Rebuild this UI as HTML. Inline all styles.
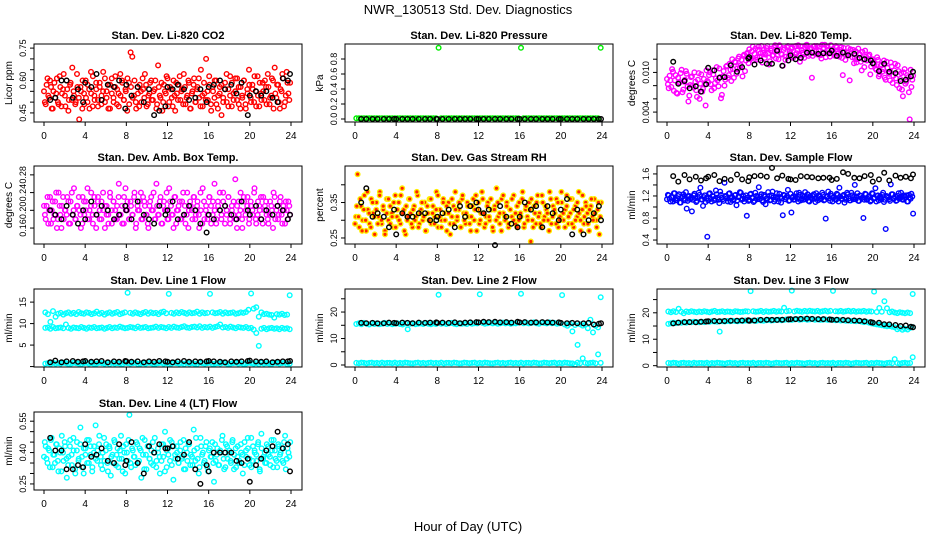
<!DOCTYPE html>
<html><head><meta charset="utf-8"><style>
html,body{margin:0;padding:0;background:#fff;}
svg{display:block;font-family:"Liberation Sans",Arial,sans-serif;}
</style></head><body>
<svg id="chart" width="936" height="540" viewBox="0 0 936 540">
<rect x="0" y="0" width="936" height="540" fill="#fff"/>
<text x="468" y="14" text-anchor="middle" font-size="13">NWR_130513  Std. Dev. Diagnostics</text>
<text x="468" y="531" text-anchor="middle" font-size="13">Hour of Day (UTC)</text>
</svg>
<script>
const xTicks=[0,4,8,12,16,20,24];
const blackHours=[0.6,1.1,1.7,2.2,2.8,3.3,3.8,4.0,4.6,5.1,5.6,6.2,6.8,7.3,7.9,8.0,8.5,9.1,9.7,10.2,10.7,11.2,11.8,12.0,12.5,13.0,13.6,14.1,14.7,15.2,15.8,16.0,16.5,17.1,17.6,18.2,18.7,19.2,19.8,20.0,20.6,21.1,21.6,22.2,22.7,23.2,23.7,23.9];

const co2Red=[.50,.58,.53,.60,.47,.55,.52,.61,.49,.57,.54,.63,.48,.56,.51,.59,.66,.53,.50,.57,.42,.55,.60,.49,.52,.58,.47,.54,.62,.51,.56,.48,.59,.53,.64,.50,.55,.58,.47,.61,.52,.57,.49,.54,.63,.60,.51,.56,.46,.59,.73,.71,.53,.50,.57,.48,.55,.61,.52,.58,.49,.54,.60,.51,.56,.47,.67,.53,.59,.50,.55,.62,.48,.57,.52,.60,.46,.54,.58,.51,.56,.63,.49,.53,.59,.47,.55,.61,.50,.57,.52,.65,.48,.54,.70,.51,.58,.46,.55,.60,.49,.53,.57,.44,.52,.59,.50,.56,.62,.48,.54,.61,.51,.57,.47,.53,.60,.49,.56,.65,.52,.58,.50,.55,.62,.48,.54,.59,.51,.57,.63,.49,.53,.60,.66,.52,.58,.47,.55,.61,.50,.64,.54,.59];
const co2Red2=[.55,.49,.61,.52,.57,.47,.59,.54,.50,.62,.48,.56,.53,.60,.46,.58,.51,.55,.49,.63,.52,.57,.47,.54,.60,.50,.56,.64,.48,.53,.59,.51,.57,.49,.55,.61,.52,.47,.58,.54,.50,.62,.56,.48,.53,.59,.51,.55,.61,.49,.57,.52,.60,.47,.54,.58,.50,.56,.63,.48,.53,.59,.51,.55,.60,.49,.57,.52,.46,.58,.54,.61,.50,.56,.48,.53,.59,.51,.62,.55,.49,.57,.52,.60,.47,.54,.58,.50,.56,.61,.48,.53,.59,.51,.55,.62,.49,.57,.52,.60,.47,.54,.58,.50,.56,.63,.48,.53,.59,.51,.55,.61,.49,.57,.52,.60,.47,.54,.58,.50,.56,.62,.48,.53,.59,.51,.55,.60,.49,.57,.52,.61,.47,.54,.58,.50,.56,.63,.48,.53,.59,.51];
const co2Black=[.51,.52,.60,.60,.52,.56,.50,.59,.57,.63,.51,.58,.57,.60,.47,.58,.53,.57,.50,.56,.44,.46,.48,.57,.56,.58,.56,.51,.52,.56,.50,.57,.58,.60,.56,.58,.54,.59,.44,.53,.55,.53,.55,.52,.50,.61,.60,.63];

const pressGreen=[0.01,0.01,0.01,0.01,0.01,0.01,0.01,0.01,0.01,0.01,0.01,0.01,0.01,0.01,0.01,0.01,0.01,0.01,0.01,0.01,0.01,0.01,0.01,0.01,0.01,0.01,0.01,0.01,0.01,0.01,0.01,0.01,0.95,0.01,0.01,0.01,0.01,0.01,0.01,0.01,0.01,0.01,0.01,0.01,0.01,0.01,0.01,0.01,0.01,0.01,0.01,0.01,0.01,0.01,0.01,0.01,0.01,0.01,0.01,0.01,0.01,0.01,0.01,0.01,0.95,0.01,0.01,0.01,0.01,0.01,0.01,0.01,0.01,0.01,0.01,0.01,0.01,0.01,0.01,0.01,0.01,0.01,0.01,0.01,0.01,0.01,0.01,0.01,0.01,0.01,0.01,0.01,0.01,0.01,0.01,0.95];
const pressBlack=[0,0,0,0,0,0,0,0,0,0,0,0,0,0,0,0,0,0,0,0,0,0,0,0,0,0,0,0,0,0,0,0,0,0,0,0,0,0,0,0,0,0,0,0,0,0,0,0];

const tempMag=[8.2,9.5,7.8,10.1,8.8,6.9,9.2,8.5,10.4,7.4,8.9,9.8,5.6,8.1,9.4,7.7,8.6,6.3,9.9,8.3,7.1,9.0,5.0,8.7,9.6,8.2,10.3,7.6,9.1,8.8,10.6,6.1,9.4,8.0,10.9,9.2,11.3,8.7,10.5,11.6,9.8,12.1,10.7,11.9,12.5,10.2,12.8,11.4,12.6,13.2,11.8,13.6,12.3,13.9,12.9,11.5,13.4,12.7,14.0,11.2,13.3,12.5,13.8,12.1,13.5,14.1,12.8,11.0,13.7,12.4,14.0,13.1,13.6,12.2,13.9,12.9,14.1,11.6,13.4,12.7,13.8,14.2,12.5,13.5,9.2,13.9,12.8,14.0,13.3,12.6,14.2,13.7,12.3,13.9,12.9,14.1,13.5,12.8,14.0,13.2,12.4,13.8,9.6,13.1,12.6,13.7,8.8,12.9,13.4,12.2,11.5,13.6,12.7,10.3,12.0,13.3,11.8,12.5,9.7,11.9,11.2,10.6,12.3,9.4,11.0,10.1,11.8,8.9,10.7,9.8,11.5,8.4,10.3,9.1,11.1,7.6,9.9,6.4,10.5,8.6,9.3,2.9,7.8,9.5];
const tempMag2=[9.0,7.6,8.8,10.5,7.2,9.6,6.8,8.4,9.9,7.0,8.6,10.2,7.9,6.5,9.3,8.0,10.0,7.3,8.9,6.0,9.7,7.5,8.2,10.3,8.5,10.0,7.3,9.7,8.4,10.8,7.9,9.3,6.6,10.2,8.9,11.0,9.6,10.4,12.0,9.2,11.5,10.6,12.4,11.1,9.4,12.7,11.8,13.0,13.5,12.1,13.9,12.8,11.9,13.4,12.4,14.0,13.0,12.2,13.7,12.9,11.7,13.6,12.6,14.1,13.2,12.0,13.9,12.7,13.4,11.9,13.8,12.5,12.9,13.8,12.4,14.0,13.3,12.6,13.9,13.0,12.2,14.1,13.4,12.8,13.7,12.5,14.0,13.2,12.7,13.9,12.1,13.6,14.2,12.9,13.4,12.4,14.0,13.1,12.5,13.8,12.9,13.4,12.2,13.7,11.9,13.0,12.6,13.5,12.3,11.4,13.2,12.0,12.8,11.6,13.1,10.8,12.4,11.9,12.7,10.9,12.0,11.3,10.4,11.9,9.7,11.2,10.5,9.2,11.6,10.0,8.8,10.9,9.5,11.3,8.1,10.2,9.0,7.4,10.0,8.3,9.6,7.0,10.4,8.9];
const tempBlack=[11.6,8.3,8.7,7.6,7.9,7.1,8.2,10.7,10.3,9.2,9.3,11.1,10.1,10.8,12.1,12.3,11.2,11.8,11.3,11.3,13.3,11.0,11.8,12.6,12.0,12.2,13.0,13.0,12.8,12.9,12.9,13.3,12.5,13.0,12.6,12.8,12.2,12.0,11.8,11.4,10.2,11.3,10.1,9.9,8.7,8.9,9.4,10.1];

const ambMag=[.19,.21,.17,.23,.20,.18,.22,.16,.24,.19,.21,.18,.20,.23,.17,.22,.19,.25,.18,.21,.20,.16,.23,.19,.22,.18,.20,.24,.17,.21,.19,.23,.18,.22,.20,.16,.21,.19,.24,.17,.22,.20,.18,.23,.19,.21,.17,.25,.20,.18,.22,.19,.23,.16,.21,.20,.24,.18,.22,.19,.17,.21,.23,.20,.18,.26,.19,.22,.17,.21,.20,.24,.18,.22,.19,.16,.23,.20,.21,.18,.22,.19,.17,.24,.20,.21,.18,.23,.19,.22,.16,.20,.25,.18,.21,.19,.23,.17,.22,.20,.18,.21,.24,.19,.22,.17,.20,.23,.18,.21,.19,.27,.16,.22,.20,.18,.23,.19,.21,.17,.22,.20,.24,.18,.19,.21,.23,.17,.20,.22,.18,.19,.21,.16,.23,.20,.18,.22,.19,.21,.17,.20,.22,.19];
const ambMag2=[.21,.18,.23,.20,.17,.22,.19,.24,.18,.21,.16,.23,.20,.19,.22,.17,.24,.20,.18,.21,.23,.19,.17,.22,.20,.25,.18,.21,.19,.23,.16,.22,.20,.18,.24,.21,.19,.17,.23,.20,.22,.18,.21,.26,.19,.17,.23,.20,.22,.18,.21,.19,.24,.17,.20,.22,.18,.23,.21,.19,.16,.22,.20,.24,.18,.21,.19,.23,.17,.22,.20,.18,.25,.21,.19,.23,.17,.20,.22,.18,.24,.21,.19,.16,.22,.20,.23,.18,.21,.19,.24,.17,.22,.20,.18,.23,.21,.19,.26,.17,.22,.20,.18,.24,.21,.19,.23,.17,.20,.22,.18,.21,.19,.24,.16,.22,.20,.23,.18,.21,.19,.25,.17,.22,.20,.18,.23,.21,.19,.17,.22,.20,.24,.18,.21,.19,.23,.17,.20,.22,.18,.21];
const ambBlack=[.20,.19,.18,.21,.19,.17,.20,.18,.22,.19,.21,.20,.18,.19,.21,.20,.18,.22,.19,.18,.17,.21,.19,.20,.22,.18,.19,.21,.20,.17,.15,.19,.18,.20,.21,.19,.18,.22,.20,.19,.21,.18,.20,.19,.21,.20,.18,.19];

const rhOrange=[.31,.43,.28,.34,.30,.37,.27,.33,.29,.36,.32,.26,.35,.31,.38,.29,.33,.27,.36,.30,.34,.32,.28,.37,.31,.35,.29,.39,.33,.26,.30,.36,.32,.28,.34,.31,.37,.29,.33,.30,.35,.27,.32,.36,.29,.34,.31,.38,.28,.33,.30,.36,.32,.27,.35,.29,.31,.34,.38,.30,.33,.28,.36,.32,.29,.35,.31,.27,.34,.30,.37,.33,.29,.32,.36,.28,.31,.35,.30,.33,.27,.34,.39,.31,.29,.36,.32,.30,.35,.28,.33,.31,.37,.29,.34,.30,.32,.36,.28,.33,.31,.35,.24,.30,.34,.29,.37,.32,.28,.35,.31,.33,.30,.38,.29,.34,.32,.36,.28,.31,.35,.30,.33,.37,.29,.32,.36,.28,.34,.31,.38,.30,.33,.29,.35,.32,.27,.34,.31,.36,.30,.33,.26,.35];
const rhOrange2=[.29,.34,.31,.36,.27,.33,.30,.38,.32,.28,.35,.31,.33,.29,.37,.30,.34,.26,.32,.36,.29,.31,.35,.28,.33,.30,.37,.32,.27,.34,.31,.36,.29,.33,.30,.38,.28,.32,.35,.31,.27,.34,.30,.36,.32,.29,.33,.37,.31,.28,.35,.30,.34,.32,.26,.36,.29,.33,.31,.35,.28,.37,.30,.32,.34,.29,.31,.36,.33,.27,.35,.30,.38,.32,.29,.34,.31,.36,.28,.33,.30,.35,.32,.27,.37,.31,.34,.29,.33,.36,.30,.32,.28,.35,.31,.38,.29,.34,.30,.33,.36,.28,.32,.35,.31,.29,.37,.30,.34,.32,.27,.36,.31,.33,.29,.35,.30,.38,.32,.28,.34,.31,.36,.29,.33,.30,.35,.32,.27,.37,.31,.34,.29,.33,.36,.30,.32,.28,.35,.31];
const rhBlack=[.35,.39,.31,.32,.31,.28,.33,.26,.32,.31,.31,.32,.32,.30,.30,.31,.32,.33,.28,.34,.31,.34,.35,.33,.32,.33,.23,.34,.31,.29,.28,.31,.35,.33,.34,.28,.34,.32,.30,.33,.36,.26,.33,.26,.30,.32,.34,.30];

const flowBlue=[1.22,1.15,1.18,1.10,1.25,1.13,1.20,1.08,1.17,1.23,1.12,0.97,1.19,1.14,0.92,1.21,1.16,1.11,1.26,1.35,1.13,1.18,1.09,0.46,1.24,1.15,1.20,1.12,1.30,1.17,1.07,1.22,1.14,1.44,1.19,1.10,1.25,1.16,1.12,1.21,1.03,1.18,1.27,1.13,1.20,1.15,0.84,1.11,1.23,1.17,1.09,1.26,1.14,1.36,1.19,1.12,1.22,1.05,1.16,1.20,1.13,1.28,1.10,1.18,1.15,1.24,1.08,0.85,1.21,1.17,1.31,1.12,0.90,1.19,1.14,1.25,1.10,1.22,1.16,1.13,1.27,1.18,1.11,1.20,1.15,1.23,1.09,1.17,1.21,1.14,1.26,1.12,0.79,1.19,1.16,1.24,1.10,1.18,1.13,1.22,1.35,1.15,1.20,1.08,1.17,1.23,1.12,1.26,1.14,1.40,1.19,1.11,1.21,1.16,0.80,1.24,1.13,1.18,1.10,1.25,1.15,1.34,1.20,1.12,1.17,1.22,1.09,0.60,1.19,1.14,1.41,1.23,1.16,1.11,1.20,1.15,1.26,1.13,1.18,1.21,1.10,1.17,1.24,0.88];
const flowBlue2=[1.14,1.21,1.10,1.18,1.25,1.12,1.16,1.23,1.08,1.19,1.15,1.27,1.11,1.20,1.17,1.13,1.24,1.09,1.18,1.22,1.14,1.02,1.21,1.16,1.12,1.25,1.10,1.19,1.15,1.23,1.13,1.28,1.17,1.11,1.20,1.16,1.24,1.09,1.18,1.14,1.22,1.12,1.19,1.26,1.15,1.10,1.21,1.17,1.13,1.24,1.16,1.11,1.20,1.18,1.14,1.23,1.09,1.19,1.15,1.27,1.12,1.21,1.17,1.13,1.25,1.10,1.18,1.16,1.22,1.14,1.20,1.11,1.24,1.17,1.13,1.19,1.15,1.26,1.12,1.21,1.18,1.14,1.23,1.10,1.17,1.20,1.15,1.25,1.12,1.19,1.16,1.22,1.13,1.18,1.28,1.11,1.20,1.17,1.14,1.24,1.10,1.19,1.15,1.22,1.13,1.26,1.16,1.12,1.21,1.18,1.14,1.25,1.11,1.20,1.17,1.13,1.23,1.15,1.19,1.12,1.24,1.16,1.10,1.21,1.18,1.14,1.26,1.13,1.20,1.17,1.11,1.23,1.15,1.19,1.12,1.25,1.16,1.14,1.21,1.18,1.10,1.22,1.15,1.19];
const flowBlack=[1.56,1.46,1.58,1.50,1.55,1.48,1.52,1.55,1.58,1.47,1.51,1.49,1.59,1.50,1.47,1.54,1.56,1.57,1.55,1.71,1.52,1.57,1.51,1.50,1.49,1.56,1.55,1.54,1.52,1.53,1.53,1.49,1.51,1.63,1.60,1.53,1.52,1.56,1.58,1.46,1.50,1.62,1.48,1.57,1.53,1.55,1.52,1.59];

const line1High=[12.6,12.2,10.4,12.9,11.6,12.3,12.5,12.1,12.4,12.6,12.3,12.5,12.2,12.7,12.4,12.3,12.6,12.5,12.2,12.4,12.8,12.3,12.5,12.1,12.4,12.6,12.3,12.5,12.7,12.2,12.4,12.6,17.2,12.5,12.3,12.6,12.4,12.2,12.5,12.7,12.3,12.6,12.4,12.5,12.2,12.6,12.8,12.4,16.9,12.5,12.3,12.6,12.4,12.7,12.5,12.3,12.6,12.4,12.5,12.8,12.3,12.6,12.4,12.5,16.9,12.6,12.4,12.5,12.7,12.3,12.6,12.4,12.5,12.6,12.3,12.4,12.6,12.5,12.7,13.2,17.0,13.5,13.8,11.6,12.6,12.2,12.3,12.1,12.0,11.4,12.2,12.1,12.3,12.0,12.1,16.6];
const line1Mid=[9.0,9.1,8.8,9.2,8.9,9.0,9.1,8.9,9.8,9.0,8.8,9.1,9.0,8.9,9.2,9.0,8.8,9.1,9.0,9.2,8.9,9.0,9.1,8.8,9.0,9.2,8.9,9.1,9.0,9.3,9.1,8.9,9.0,9.2,9.1,8.9,9.3,9.0,9.1,9.2,8.9,9.0,9.1,9.3,9.0,9.2,9.1,8.9,9.2,9.0,9.3,9.1,9.0,9.2,9.4,9.1,9.0,9.2,9.3,9.1,9.4,9.0,9.2,9.1,9.3,9.0,9.2,9.4,9.8,9.1,9.2,9.0,9.3,9.1,8.9,9.2,9.1,9.0,9.2,8.9,9.0,8.6,7.8,4.8,8.8,9.0,8.7,8.9,9.0,8.8,8.9,8.7,9.0,8.8,8.9,8.7];
const line1Low=[0.7,0.8,0.6,0.9,0.7,0.8,0.7,0.9,0.8,0.6,0.7,0.9,0.8,0.7,0.6,0.8,0.9,0.7,0.8,0.6,0.7,0.9,0.8,0.7,0.8,0.6,0.9,0.7,0.8,0.7,0.6,0.9,0.8,0.7,0.8,0.9,0.6,0.7,0.8,0.7,0.9,0.8,0.6,0.7,0.8,0.9,0.7,0.8,0.6,0.7,0.9,0.8,0.7,0.8,0.6,0.9,0.7,0.8,0.7,0.6,0.9,0.8,0.7,0.8,0.9,0.6,0.7,0.8,0.7,0.9,0.8,0.6,0.7,0.8,0.9,0.7,0.8,0.6,0.7,0.9,0.8,0.7,0.8,0.6,0.9,0.7,0.8,0.7,0.6,0.9,0.8,0.7,0.8,0.9,0.6,0.7];
const line1Black=[1.0,1.4,1.0,1.2,1.3,1.1,1.2,1.3,1.1,1.2,1.3,1.0,1.2,1.1,1.3,1.2,1.1,1.2,1.0,1.2,1.1,1.3,1.2,1.1,1.0,1.2,1.3,1.1,1.2,1.1,1.2,1.3,1.2,1.1,1.0,1.2,1.1,1.2,1.3,1.4,1.2,1.1,1.2,1.0,1.1,1.2,1.2,1.3];

const line2High=[15.5,15.8,15.4,15.9,15.6,15.3,15.7,15.5,15.8,15.4,15.6,15.9,15.5,15.7,15.4,15.6,15.8,15.5,15.3,15.7,13.5,15.6,15.8,15.4,15.6,15.7,15.5,15.9,15.6,15.4,15.7,15.5,26.5,15.6,15.8,15.5,15.7,15.9,15.6,15.4,15.8,15.6,15.7,15.5,15.9,15.6,15.8,15.7,26.7,15.9,15.6,15.8,16.0,15.7,15.9,15.6,15.8,16.0,15.7,15.9,15.6,15.8,15.7,16.0,26.9,15.8,16.0,15.7,15.9,16.1,15.8,15.6,16.0,15.9,15.7,16.1,15.8,15.9,15.6,15.8,26.4,15.3,14.8,15.6,12.7,15.1,7.6,15.4,14.9,15.2,13.9,17.1,12.3,14.8,14.2,25.6];
const line2Low=[0.8,0.7,0.9,0.8,0.6,0.8,0.9,0.7,0.8,0.6,0.9,0.7,0.8,0.8,0.7,0.9,0.6,0.8,0.7,0.9,0.8,0.7,0.6,0.8,0.9,0.7,0.8,0.6,0.8,0.9,0.7,0.8,0.7,0.9,0.6,0.8,0.8,0.7,0.9,0.8,0.6,0.7,0.9,0.8,0.7,0.8,0.9,0.6,0.8,0.7,0.9,0.8,0.7,0.6,0.8,0.9,0.7,0.8,0.6,0.8,0.9,0.7,0.8,0.7,0.9,0.6,0.8,0.8,0.7,0.9,0.8,0.6,0.7,0.9,0.8,0.7,0.8,0.9,0.6,0.8,0.7,0.9,0.8,0.7,0.6,0.2,0.9,0.7,2.5,0.8,0.6,0.8,0.9,0.7,4.0,0.8];
const line2Black=[15.9,15.8,15.9,15.7,15.8,16.0,15.9,15.8,16.0,15.9,15.8,16.0,15.9,16.0,16.1,15.9,16.0,15.9,16.1,15.8,16.0,16.1,16.2,16.1,16.3,16.2,16.3,16.1,16.2,16.0,16.3,16.1,16.2,16.0,16.1,16.2,16.1,16.0,16.1,15.9,15.8,15.9,15.8,15.7,15.9,15.3,15.6,15.8];

const line3High=[20.5,20.2,20.6,20.3,21.5,20.4,19.8,20.5,20.3,20.6,20.4,20.2,20.5,20.3,20.6,20.4,20.2,20.5,20.7,20.3,20.4,20.6,20.3,20.5,20.4,20.2,20.6,20.5,20.3,20.4,20.6,20.5,28.2,20.6,20.4,20.5,20.7,20.3,20.6,20.4,20.5,20.7,20.4,20.6,20.5,21.9,20.6,20.7,28.4,20.5,20.8,20.6,20.4,20.7,20.5,20.8,20.6,20.5,20.7,20.4,20.6,20.8,20.5,20.7,28.3,20.6,20.5,20.7,20.4,20.6,20.8,20.5,20.7,20.4,20.6,20.5,20.7,20.4,20.6,20.5,28.0,20.3,21.8,20.4,24.4,21.7,20.2,20.5,20.1,19.9,20.2,20.0,19.8,20.1,19.9,27.1];
const line3Mid=[15.8,16.0,16.2,16.1,16.3,16.2,16.4,16.3,16.5,16.4,16.6,16.5,16.4,16.6,16.5,16.7,16.6,16.8,16.7,16.6,12.9,16.8,16.7,16.9,16.8,17.0,16.9,16.8,17.0,16.9,17.1,17.0,17.0,17.1,16.9,17.2,17.1,17.0,17.2,17.3,17.1,17.2,17.3,17.4,17.2,17.3,17.5,17.4,17.3,17.5,17.6,17.4,17.5,17.6,17.4,17.5,17.6,17.4,17.5,17.3,17.4,17.5,17.3,17.4,17.3,17.2,17.3,17.1,17.2,17.0,17.1,16.9,17.0,16.8,16.9,16.7,16.5,16.6,16.3,16.0,15.8,15.6,15.5,15.3,15.1,14.9,15.0,14.7,14.5,13.8,14.2,13.6,14.0,13.7,14.3,14.6];
const line3Low=[1.0,0.9,1.1,1.0,0.8,1.0,1.1,0.9,1.0,0.8,1.1,0.9,1.0,1.0,0.9,1.1,0.8,1.0,0.9,1.1,1.0,0.9,0.8,1.0,1.1,0.9,1.0,0.8,1.0,1.1,0.9,1.0,0.9,1.1,0.8,1.0,1.0,0.9,1.1,1.0,0.8,0.9,1.1,1.0,0.9,1.0,1.1,0.8,1.0,0.9,1.1,1.0,0.9,0.8,1.0,1.1,0.9,1.0,0.8,1.0,1.1,0.9,1.0,0.9,1.1,0.8,1.0,1.0,0.9,1.1,1.0,0.8,0.9,1.1,1.0,0.9,1.0,1.1,0.8,1.0,0.9,1.1,1.0,0.9,0.8,1.0,1.1,0.9,2.5,1.0,0.8,1.0,1.1,0.9,1.0,3.2];
const line3Black=[16.0,16.3,16.5,16.5,16.4,16.6,16.7,16.8,16.9,16.8,16.9,17.0,17.0,17.1,17.2,17.0,17.1,17.3,17.4,17.3,17.3,17.4,17.5,17.6,17.6,17.7,17.8,17.7,17.6,17.6,17.5,17.4,17.4,17.3,17.2,17.1,17.0,16.8,16.5,16.3,16.2,15.7,15.6,15.4,15.0,15.2,14.7,14.5];

const line4Cyan=[.45,.37,.42,.33,.47,.39,.35,.44,.31,.40,.48,.36,.43,.28,.38,.46,.34,.41,.30,.45,.37,.52,.33,.42,.39,.46,.35,.43,.31,.40,.53,.36,.44,.38,.32,.47,.41,.35,.43,.29,.39,.46,.34,.42,.37,.48,.31,.40,.44,.36,.58,.33,.41,.38,.45,.35,.42,.28,.39,.46,.32,.43,.37,.41,.34,.47,.36,.40,.30,.44,.38,.50,.33,.42,.36,.45,.27,.39,.43,.35,.41,.37,.46,.32,.40,.44,.34,.38,.51,.36,.42,.30,.47,.39,.35,.43,.33,.41,.38,.45,.26,.36,.42,.34,.40,.48,.32,.44,.37,.41,.35,.46,.39,.33,.43,.36,.40,.30,.45,.38,.42,.34,.47,.36,.41,.39,.44,.32,.49,.37,.40,.35,.43,.38,.46,.33,.41,.36,.44,.39,.42,.35,.48,.37,.40,.45];
const line4Cyan2=[.38,.43,.35,.41,.46,.33,.39,.44,.36,.42,.31,.40,.45,.37,.34,.43,.39,.47,.32,.41,.36,.44,.38,.30,.42,.35,.46,.39,.33,.43,.37,.41,.48,.34,.40,.36,.44,.31,.42,.38,.35,.45,.39,.33,.41,.37,.43,.30,.40,.46,.35,.42,.38,.34,.44,.36,.41,.47,.32,.39,.43,.37,.35,.45,.40,.33,.42,.38,.36,.44,.31,.41,.39,.46,.34,.43,.37,.40,.35,.45,.38,.32,.42,.36,.44,.39,.34,.41,.47,.37,.33,.43,.40,.36,.45,.31,.42,.38,.35,.44,.39,.34,.41,.46,.37,.33,.43,.40,.36,.45,.32,.42,.38,.35,.44,.39,.34,.41,.47,.37,.33,.43,.40,.36,.45,.31,.42,.38,.35,.44,.39,.34,.41,.46,.37,.33,.43,.40,.36,.45,.32,.42,.38];
const line4Black=[.47,.41,.41,.32,.32,.34,.33,.44,.38,.39,.42,.36,.35,.44,.34,.36,.45,.35,.30,.43,.40,.44,.42,.42,.43,.37,.39,.45,.32,.25,.34,.31,.40,.40,.40,.40,.36,.35,.37,.26,.34,.37,.41,.43,.50,.42,.44,.31];

const NS="http://www.w3.org/2000/svg";
const svg=document.getElementById('chart');
const colLeft=[34,345,657], rowTop=[44,166,289,412], boxW=268, boxH=78;
function el(tag,attrs,parent){const e=document.createElementNS(NS,tag);for(const k in attrs)e.setAttribute(k,attrs[k]);(parent||svg).appendChild(e);return e;}

function panel(cfg){
  const L=colLeft[cfg.col],T=rowTop[cfg.row],B=T+boxH;
  const g=el('g',{});
  
  
  const xs=h=>L+10+(h/24)*247;
  const ys=v=>B-(v-cfg.ylim[0])/(cfg.ylim[1]-cfg.ylim[0])*boxH;
  cfg.series.forEach(s=>{
    const sg=el('g',{},g);
    
    
    const off=s.offset===undefined?0.5:s.offset;
    s.values.forEach((v,i)=>{
      const h=s.hours?s.hours[i]:(i+off)*24/s.values.length;
      if(h===undefined)return;
      const c=el('circle',{cx:xs(h).toFixed(1),cy:ys(v).toFixed(1),r:2.3,fill:s.fill||'none',stroke:s.color,'stroke-width':1.4},sg);
      
      
    });
  });
  const box=el('rect',{x:L,y:T,width:boxW,height:boxH,fill:'none',stroke:'#000','stroke-width':1},g);
  
  
  const t=el('text',{x:L+boxW/2,y:T-5,'text-anchor':'middle','font-size':11,'font-weight':'bold'},g);
  t.textContent=cfg.title;
  
  
  xTicks.forEach(h=>{
    el('line',{x1:xs(h),x2:xs(h),y1:B,y2:B+4,stroke:'#000'},g);
    const lb=el('text',{x:xs(h),y:B+17,'text-anchor':'middle','font-size':10},g);
    lb.textContent=h;
    
    
  });
  cfg.yTicks.forEach((v,i)=>{
    const y=ys(v);
    el('line',{x1:L-4,x2:L,y1:y,y2:y,stroke:'#000'},g);
    const s=cfg.yLabels[i];
    if(s){
      const lb=el('text',{x:L-8,y:y,'text-anchor':'middle','font-size':9,transform:`rotate(-90 ${L-8} ${y})`},g);
      lb.textContent=s;
      
      
    }
  });
  const yt=el('text',{x:L-22,y:T+boxH/2,'text-anchor':'middle','font-size':10,transform:`rotate(-90 ${L-22} ${T+boxH/2})`},g);
  yt.textContent=cfg.ylabel;
  
  
}

const BK='#000', CY='#00ffff';
panel({name:'co2-panel',col:0,row:0,title:'Stan. Dev. Li-820 CO2',ylabel:'Licor ppm',ylim:[0.408,0.769],yTicks:[.45,.5,.55,.6,.65,.7,.75],yLabels:['0.45','','','0.60','','','0.75'],
  series:[{name:'co2-sample',values:co2Red,color:'#ff0000'},{name:'co2-sample-b',values:co2Red2,color:'#ff0000',offset:0},{name:'co2-reference',values:co2Black,hours:blackHours,color:BK}]});
panel({name:'pressure-panel',col:1,row:0,title:'Stan. Dev. Li-820 Pressure',ylabel:'kPa',ylim:[-0.04,1.0],yTicks:[0,.2,.4,.6,.8],yLabels:['0.0','0.2','0.4','0.6','0.8'],
  series:[{name:'pressure-sample',values:pressGreen,color:'#00ee00'},{name:'pressure-reference',values:pressBlack,hours:blackHours,color:BK}]});
panel({name:'temp-panel',col:2,row:0,title:'Stan. Dev. Li-820 Temp.',ylabel:'degrees C',ylim:[2.5,14.3],yTicks:[4,6,8,10,12],yLabels:['0.004','','','0.010',''],
  series:[{name:'temp-sample',values:tempMag,color:'#ff00ff'},{name:'temp-sample-b',values:tempMag2,color:'#ff00ff',offset:0},{name:'temp-reference',values:tempBlack,hours:blackHours,color:BK}]});
panel({name:'ambbox-panel',col:0,row:1,title:'Stan. Dev. Amb. Box Temp.',ylabel:'degrees C',ylim:[0.124,0.30],yTicks:[.16,.20,.24,.28],yLabels:['0.16','0.20','0.24','0.28'],
  series:[{name:'ambbox-sample',values:ambMag,color:'#ff00ff'},{name:'ambbox-sample-b',values:ambMag2,color:'#ff00ff',offset:0},{name:'ambbox-reference',values:ambBlack,hours:blackHours,color:BK}]});
panel({name:'rh-panel',col:1,row:1,title:'Stan. Dev. Gas Stream RH',ylabel:'percent',ylim:[0.233,0.453],yTicks:[.25,.30,.35,.40],yLabels:['0.25','','0.35',''],
  series:[{name:'rh-sample',values:rhOrange,color:'#ffee00',fill:'#ff2200'},{name:'rh-sample-b',values:rhOrange2,color:'#ffee00',fill:'#ff2200',offset:0},{name:'rh-reference',values:rhBlack,hours:blackHours,color:BK}]});
panel({name:'sampleflow-panel',col:2,row:1,title:'Stan. Dev. Sample Flow',ylabel:'ml/min',ylim:[0.328,1.744],yTicks:[.4,.6,.8,1.0,1.2,1.4,1.6],yLabels:['0.4','','0.8','','1.2','','1.6'],
  series:[{name:'sampleflow-sample',values:flowBlue,color:'#0000ff'},{name:'sampleflow-sample-b',values:flowBlue2,color:'#0000ff',offset:0},{name:'sampleflow-reference',values:flowBlack,hours:blackHours,color:BK}]});
panel({name:'line1-panel',col:0,row:2,title:'Stan. Dev. Line 1 Flow',ylabel:'ml/min',ylim:[-0.1,18.05],yTicks:[0,5,10,15],yLabels:['','5','10','15'],
  series:[{name:'line1-high',values:line1High,color:CY},{name:'line1-mid',values:line1Mid,color:CY},{name:'line1-low',values:line1Low,color:CY},{name:'line1-reference',values:line1Black,hours:blackHours,color:BK}]});
panel({name:'line2-panel',col:1,row:2,title:'Stan. Dev. Line 2 Flow',ylabel:'ml/min',ylim:[-0.75,28.7],yTicks:[0,5,10,15,20,25],yLabels:['0','','10','','20',''],
  series:[{name:'line2-high',values:line2High,color:CY},{name:'line2-low',values:line2Low,color:CY},{name:'line2-reference',values:line2Black,hours:blackHours,color:BK}]});
panel({name:'line3-panel',col:2,row:2,title:'Stan. Dev. Line 3 Flow',ylabel:'ml/min',ylim:[-0.5,29],yTicks:[0,5,10,15,20,25],yLabels:['0','','10','','20',''],
  series:[{name:'line3-high',values:line3High,color:CY},{name:'line3-mid',values:line3Mid,color:CY},{name:'line3-low',values:line3Low,color:CY},{name:'line3-reference',values:line3Black,hours:blackHours,color:BK}]});
panel({name:'line4-panel',col:0,row:3,title:'Stan. Dev. Line 4 (LT) Flow',ylabel:'ml/min',ylim:[0.221,0.594],yTicks:[.25,.30,.35,.40,.45,.50,.55],yLabels:['0.25','','','0.40','','','0.55'],
  series:[{name:'line4-sample',values:line4Cyan,color:CY},{name:'line4-sample-b',values:line4Cyan2,color:CY,offset:0},{name:'line4-reference',values:line4Black,hours:blackHours,color:BK}]});
</script>
</body></html>
